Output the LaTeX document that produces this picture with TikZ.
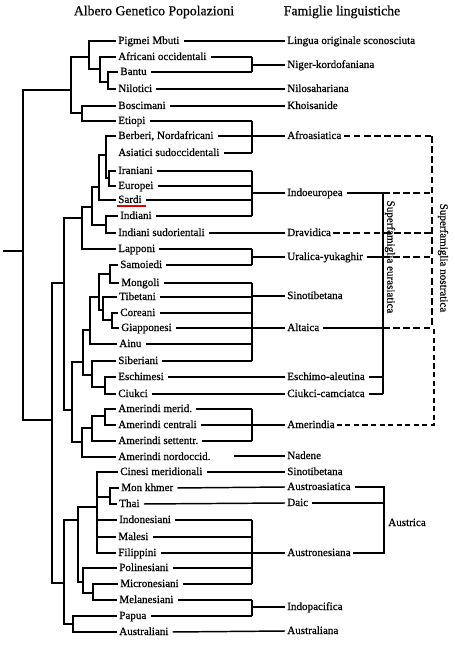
\documentclass[tikz,border=0pt]{standalone}
\usepackage{fontspec}
\setmainfont{Liberation Serif}[FakeBold=0.5]
\newfontfamily\labfont{Liberation Serif}[FakeBold=0.6]
\begin{document}
\begin{tikzpicture}[x=0.75pt,y=-0.75pt,
  tree/.style={line width=1.1pt, line join=miter},
  rowline/.style={line width=1.1pt, shorten <=1.5pt},
  leaf/.style={anchor=west, inner xsep=1.5pt, inner ysep=0pt, text height=6pt, text depth=1.5pt, font=\labfont\fontsize{8.3}{10}\selectfont},
  fam/.style={leaf},
  ttl/.style={inner sep=0pt, font=\labfont\fontsize{10.3}{12}\selectfont},
  rot/.style={rotate=-90, inner sep=0pt, font=\labfont\fontsize{8.3}{10}\selectfont},
  thickdash/.style={line width=1.7pt, dash pattern=on 5pt off 2.6pt},
  thindash/.style={line width=0.8pt, dash pattern=on 3.8pt off 2.6pt}]
\fill[white] (0,0) rectangle (454,645);
\useasboundingbox (0,0) rectangle (454,645);
\coordinate (bx) at (252,0);
\coordinate (ex) at (383,0);
\coordinate (nx) at (432,0);
% titles
\node[ttl] (t1) at (154,12) {Albero Genetico Popolazioni};
\node[ttl] (t2) at (342,12) {Famiglie linguistiche};
% leaves
\node[leaf] (l1) at (116,41) {Pigmei Mbuti};
\node[leaf] (l2) at (116,57) {Africani occidentali};
\node[leaf] (l3) at (118,72) {Bantu};
\node[leaf] (l4) at (116,89) {Nilotici};
\node[leaf] (l5) at (116,106) {Boscimani};
\node[leaf] (l6) at (116,121) {Etiopi};
\node[leaf] (l7) at (116,136) {Berberi, Nordafricani};
\node[leaf] (l8) at (116,153) {Asiatici sudoccidentali};
\node[leaf] (l9) at (116,171) {Iraniani};
\node[leaf] (l10) at (116,186) {Europei};
\node[leaf] (l11) at (116,200) {Sardi};
\node[leaf] (l12) at (118,216) {Indiani};
\node[leaf] (l13) at (116,233) {Indiani sudorientali};
\node[leaf] (l14) at (116,249) {Lapponi};
\node[leaf] (l15) at (118,265) {Samoiedi};
\node[leaf] (l16) at (119,283) {Mongoli};
\node[leaf] (l17) at (117,297) {Tibetani};
\node[leaf] (l18) at (118,313) {Coreani};
\node[leaf] (l19) at (119,328) {Giapponesi};
\node[leaf] (l20) at (117,344) {Ainu};
\node[leaf] (l21) at (116,361) {Siberiani};
\node[leaf] (l22) at (116,377) {Eschimesi};
\node[leaf] (l23) at (116,394) {Ciukci};
\node[leaf] (l24) at (116,409) {Amerindi merid.};
\node[leaf] (l25) at (116,425) {Amerindi centrali};
\node[leaf] (l26) at (116,441) {Amerindi settentr.};
\node[leaf] (l27) at (116,457) {Amerindi nordoccid.};
\node[leaf] (l28) at (118,472) {Cinesi meridionali};
\node[leaf] (l29) at (119,488) {Mon khmer};
\node[leaf] (l30) at (117,504) {Thai};
\node[leaf] (l31) at (117,520) {Indonesiani};
\node[leaf] (l32) at (116,537) {Malesi};
\node[leaf] (l33) at (116,553) {Filippini};
\node[leaf] (l34) at (117,568) {Polinesiani};
\node[leaf] (l35) at (118,584) {Micronesiani};
\node[leaf] (l36) at (117,600) {Melanesiani};
\node[leaf] (l37) at (117,616) {Papua};
\node[leaf] (l38) at (117,632) {Australiani};
% families
\node[fam] (f1) at (285,41) {Lingua originale sconosciuta};
\node[fam] (f2) at (285,65) {Niger-kordofaniana};
\node[fam] (f3) at (285,89) {Nilosahariana};
\node[fam] (f4) at (285,106) {Khoisanide};
\node[fam] (f5) at (285,136) {Afroasiatica};
\node[fam] (f6) at (285,193) {Indoeuropea};
\node[fam] (f7) at (285,233) {Dravidica};
\node[fam] (f8) at (285,257) {Uralica-yukaghir};
\node[fam] (f9) at (285,296) {Sinotibetana};
\node[fam] (f10) at (285,328) {Altaica};
\node[fam] (f11) at (285,377) {Eschimo-aleutina};
\node[fam] (f12) at (285,394) {Ciukci-camciatca};
\node[fam] (f13) at (285,425) {Amerindia};
\node[fam] (f14) at (285,456) {Nadene};
\node[fam] (f15) at (285,472) {Sinotibetana};
\node[fam] (f16) at (285,487) {Austroasiatica};
\node[fam] (f17) at (285,503) {Daic};
\node[fam] (f18) at (285,553) {Austronesiana};
\node[fam] (f19) at (285,607) {Indopacifica};
\node[fam] (f20) at (285,631) {Australiana};
\node[fam] (au) at (386,523) {Austrica};
\node[rot] (se) at (390,257) {Superfamiglia eurasiatica};
\node[rot] (sn) at (443,258) {Superfamiglia nostratica};
% red underline
\draw[red!85!black, line width=1.2pt] (117,206) -- (146,206);
% ---- tree ----
\draw[tree] (3,251) -- (23,251);
\draw[tree] (71,90) -- (23,90) -- (23,420) -- (52,420);
\draw[tree] (89,57) -- (71,57) -- (71,113) -- (82,113);
\draw[tree] (l1.west) -- (89,41) -- (89,69) -- (100,69);
\draw[tree] (l2.west) -- (100,57) -- (100,82) -- (108,82);
\draw[tree] (l3.west) -- (108,72) -- (108,89) -- (l4.west);
\draw[tree] (l5.west) -- (82,106) -- (82,121) -- (l6.west);
\draw[tree] (64,283) -- (52,283) -- (52,583) -- (64,583);
\draw[tree] (82,218) -- (64,218) -- (64,410) -- (72,410);
\draw[tree] (92,207) -- (82,207) -- (82,249) -- (l14.west);
\draw[tree] (99,187) -- (92,187) -- (92,225) -- (106,225);
\draw[tree] (l12.west) -- (106,216) -- (106,233) -- (l13.west);
\draw[tree] (106,155) -- (99,155) -- (99,200) -- (l11.west);
\draw[tree] (l7.west) -- (106,136) -- (106,178) -- (109,178);
\draw[tree] (l9.west) -- (109,171) -- (109,186) -- (l10.west);
\draw[tree] (83,362) -- (72,362) -- (72,442) -- (82,442);
\draw[tree] (90,330) -- (83,330) -- (83,375) -- (92,375);
\draw[tree] (99,297) -- (90,297) -- (90,344) -- (l20.west);
\draw[tree] (110,274) -- (99,274) -- (99,310) -- (103,310);
\draw[tree] (l15.west) -- (110,265) -- (110,283) -- (l16.west);
\draw[tree] (l17.west) -- (103,297) -- (103,320) -- (112,320);
\draw[tree] (l18.west) -- (112,313) -- (112,328) -- (l19.west);
\draw[tree] (l21.west) -- (92,361) -- (92,387) -- (105,387);
\draw[tree] (l22.west) -- (105,377) -- (105,394) -- (l23.west);
\draw[tree] (92,428) -- (82,428) -- (82,457) -- (l27.west);
\draw[tree] (105,416) -- (92,416) -- (92,441) -- (l26.west);
\draw[tree] (l24.west) -- (105,409) -- (105,425) -- (l25.west);
\draw[tree] (78,520) -- (64,520) -- (64,624) -- (73,624);
\draw[tree] (97,507) -- (78,507) -- (78,582) -- (83,582);
\draw[tree] (l28.west) -- (97,472) -- (97,553) -- (l33.west);
\draw[tree] (97,497) -- (110,497);
\draw[tree] (97,520) -- (l31.west);
\draw[tree] (97,537) -- (l32.west);
\draw[tree] (l29.west) -- (110,488) -- (110,504) -- (l30.west);
\draw[tree] (l34.west) -- (83,568) -- (83,593) -- (93,593);
\draw[tree] (l35.west) -- (93,584) -- (93,600) -- (l36.west);
\draw[tree] (l37.west) -- (73,616) -- (73,632) -- (l38.west);
% ---- rows to families ----
\draw[rowline] (l1.east) -- (f1.west);
\foreach \i in {2,3,6,7,8,9,10,11,12,14,15,16,17,18,19,20,21,24,25,26,31,32,33,34,35,36,37}
  \draw[rowline] (l\i.east) -- (l\i.east -| bx);
\draw[rowline] (l4.east) -- (f3.west);
\draw[rowline] (l5.east) -- (f4.west);
\draw[rowline] (l13.east) -- (f7.west);
\draw[rowline] (l22.east) -- (f11.west);
\draw[rowline] (l23.east) -- (f12.west);
\draw[rowline] (l28.east) -- (f15.west);
\draw[rowline] (l29.east) -- (f16.west);
\draw[rowline] (l30.east) -- (f17.west);
\draw[rowline] (l38.east) -- (f20.west);
\coordinate (nd) at (234,456);
\draw[tree] (nd) -- (f14.west);
% brackets
\draw[tree] (252,57) -- (252,72); \draw[tree] (252,65) -- (f2.west);
\draw[tree] (252,121) -- (252,153); \draw[tree] (252,136) -- (f5.west);
\draw[tree] (252,171) -- (252,216); \draw[tree] (252,193) -- (f6.west);
\draw[tree] (252,249) -- (252,265); \draw[tree] (252,257) -- (f8.west);
\draw[tree] (252,283) -- (252,361); \draw[tree] (252,296) -- (f9.west);
\draw[tree] (252,328) -- (f10.west);
\draw[tree] (252,409) -- (252,441); \draw[tree] (252,425) -- (f13.west);
\draw[tree] (252,520) -- (252,584); \draw[tree] (252,553) -- (f18.west);
\draw[tree] (252,600) -- (252,616); \draw[tree] (252,607) -- (f19.west);
% eurasiatic
\draw[rowline] (f6.east) -- (f6.east -| ex);
\draw[rowline] (f8.east) -- (f8.east -| ex);
\draw[rowline] (f10.east) -- (f10.east -| ex);
\draw[rowline] (f11.east) -- (f11.east -| ex);
\draw[rowline] (f12.east) -- (f12.east -| ex);
\draw[tree] (383,193) -- (383,394);
% nostratic
\draw[thickdash] (f5.east) -- (f5.east -| nx);
\draw[thickdash] (f6.east -| ex) -- (f6.east -| nx);
\draw[thickdash] (f7.east) -- (f7.east -| nx);
\draw[thickdash] (f8.east -| ex) -- (f8.east -| nx);
\draw[thickdash] (f10.east -| ex) -- (f10.east -| nx);
\draw[thickdash] (432,136) -- (432,328);
\draw[thindash] (f13.east) -- (434,425) -- (434,328);
% austrica
\draw[rowline] (f16.east) -- (384,487) -- (384,553) -- (f18.east);
\draw[rowline] (f17.east) -- (384,503);
\end{tikzpicture}
\end{document}
